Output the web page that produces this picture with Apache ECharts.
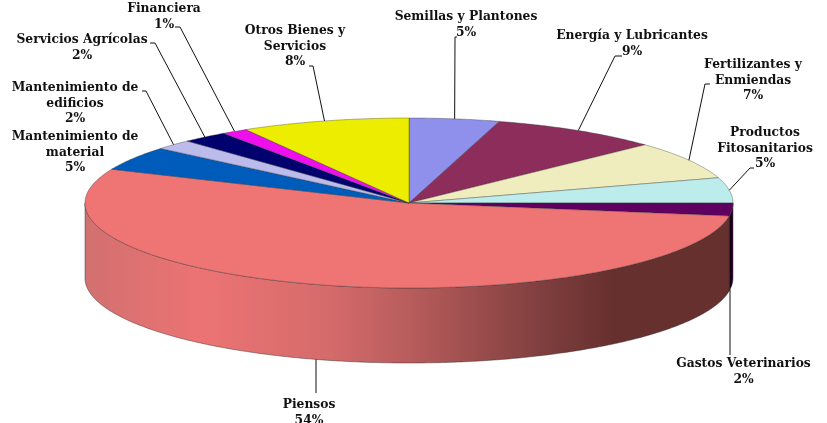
<!DOCTYPE html>
<html><head><meta charset="utf-8">
<style>html,body{margin:0;padding:0;background:#fff}#c{width:827px;height:423px}</style>
<script src="https://cdn.jsdelivr.net/npm/echarts@6/dist/echarts.min.js"></script>
</head><body><div id="c"></div>
<script>
// Data, clockwise from 12 o'clock
const categories = ['Semillas y Plantones','Energía y Lubricantes','Fertilizantes y\nEnmiendas','Productos\nFitosanitarios','Gastos Veterinarios','Piensos','Mantenimiento de\nmaterial','Mantenimiento de\nedificios','Servicios Agrícolas','Financiera','Otros Bienes y\nServicios'];
const values = [4.5,8.5,7.2,4.8,2.45,54.05,4.6,1.9,2.3,1.3,8.4];

// Styles and layout
const colors = ['#8f8fec','#8c2d5c','#efecbd','#bcecec','#5f0060','#ef7474','#005cbb','#bcbcec','#00006e','#ee0eee','#eded00'];
const labelCenters = [[466,17],[632,36],[753,65],[765,133],[743.5,364],[309,405],[75,137],[75,88],[82,40],[164,9],[295,31]];
const leaderElbows = [[[455,37],[457,37]],[[615,56],[622,56]],[[705,84],[710,84]],[[750,168],[754,168]],[[730,355]],[[316,393]],null,[[146,91],[142,91]],[[155,43],[150,43]],[[180,27],[175,27]],[[313,66],[309,66]]];
const PIE = {cx:409, cy:203, rx:324, ry:85, depth:75};
const FONT = 'bold 12.3px "DejaVu Serif"';
const LINE_H = 15.6;

const total = values.reduce((a,b)=>a+b,0);
const starts = []; let acc = 0;
values.forEach(v=>{starts.push(acc/total*360); acc+=v;});
const pt = (deg,dy=0)=>{const r=deg*Math.PI/180; return [PIE.cx+PIE.rx*Math.sin(r), PIE.cy-PIE.ry*Math.cos(r)+dy];};
const arc = (a,b,dy=0)=>{const n=Math.max(2,Math.ceil(Math.abs(b-a)*1.5)),p=[];for(let i=0;i<=n;i++)p.push(pt(a+(b-a)*i/n,dy));return p;};
const rows = values.map((v,i)=>[v,i]);
const range = i=>[starts[i], starts[i]+values[i]/total*360];

function sideItem(params){
  const i=params.dataIndex; const [a0,b0]=range(i);
  const a=Math.max(a0,90), b=Math.min(b0,270);
  if(b<=a) return {type:'group',children:[]};
  const pts=arc(a,b,0).concat(arc(b,a,PIE.depth));
  let fill=colors[i];
  if(i===5) fill=new echarts.graphic.LinearGradient(0,0,1,0,[
    {offset:0,color:'#d27070'},{offset:.18,color:'#ec7373'},{offset:.38,color:'#d56b6b'},
    {offset:.52,color:'#b45a5a'},{offset:.72,color:'#7c3d3c'},{offset:.82,color:'#66302f'},{offset:1,color:'#66302f'}
  ],false);
  if(i===4) fill=new echarts.graphic.LinearGradient(0,0,1,0,[{offset:0,color:'#0c000c'},{offset:.55,color:'#12001a'},{offset:1,color:'#450045'}],false);
  return {type:'polygon',shape:{points:pts},style:{fill,stroke:'rgba(50,40,40,.75)',lineWidth:.6}};
}
function topItem(params){
  const i=params.dataIndex; const [a,b]=range(i);
  return {type:'polygon',shape:{points:[[PIE.cx,PIE.cy]].concat(arc(a,b))},
    style:{fill:colors[i],stroke:'rgba(50,50,50,.6)',lineWidth:.6}};
}
function labelItem(params,api){
  const i=params.dataIndex; const [a,b]=range(i); const mid=(a+b)/2;
  const pct=Math.round(api.value(0)/total*100)+'%';
  const [x,y]=labelCenters[i];
  const children=[{type:'text',style:{x,y:y-LINE_H/2,text:categories[i]+'\n'+pct,font:FONT,fill:'#111',align:'center',verticalAlign:'top',lineHeight:LINE_H}}];
  if(leaderElbows[i]){
    const onSide=mid>90&&mid<270;
    let start=pt(mid,onSide?PIE.depth:0);
    if(onSide){ // vertical leader dropping from the lower rim
      const lx=leaderElbows[i][0][0], u=(lx-PIE.cx)/PIE.rx;
      start=[lx,PIE.cy+PIE.ry*Math.sqrt(1-u*u)+PIE.depth];
    }
    children.push({type:'polyline',shape:{points:[start].concat(leaderElbows[i])},
      style:{fill:null,stroke:'#111',lineWidth:1}});
  }
  return {type:'group',children};
}
const chart=echarts.init(document.getElementById('c'),null,{renderer:'canvas'});
chart.setOption({
  animation:false,backgroundColor:'#fff',
  series:[
    {type:'custom',coordinateSystem:'none',silent:true,z:1,data:rows,renderItem:sideItem},
    {type:'custom',coordinateSystem:'none',silent:true,z:2,data:rows,renderItem:topItem},
    {type:'custom',coordinateSystem:'none',silent:true,z:3,data:rows,renderItem:labelItem}
  ]
});
</script></body></html>
